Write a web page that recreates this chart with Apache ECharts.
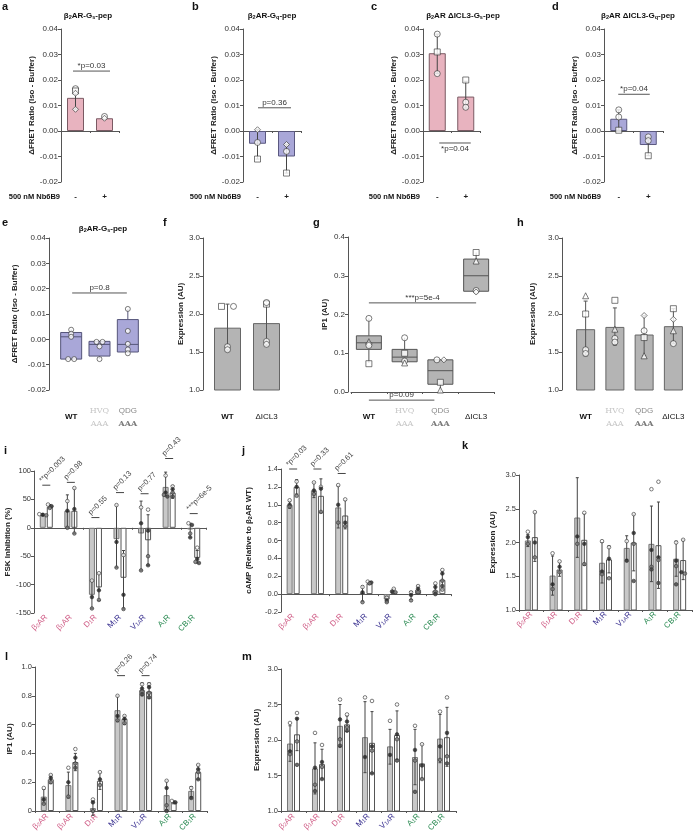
<!DOCTYPE html>
<html><head><meta charset="utf-8">
<script src="https://cdn.jsdelivr.net/npm/echarts@6/dist/echarts.min.js"></script>
<style>html,body{margin:0;padding:0;background:#fff}#c{width:695px;height:838px}</style>
</head><body><div id="c"></div>
<script>
// ================= DATA =================
// Row 1: ΔFRET (Iso - Buffer), without / with 500 nM Nb6B9
const nbCats = ['-', '+'];
const aMean = [0.013, 0.005];
const aErr = [[0.0085, 0.0166], [0.0047, 0.0057]];
const aPts = [[0.0166, 0.0157, 0.0148, 0.0085], [0.0057, 0.0050]];
const aSym = [['circle', 'rect', 'diamond', 'diamond'], ['circle', 'diamond']];
const bMean = [-0.005, -0.010];
const bErr = [[-0.011, 0.0005], [-0.0165, -0.0053]];
const bPts = [[0.0005, -0.0045, -0.011], [-0.0053, -0.008, -0.0165]];
const bSym = [['diamond', 'circle', 'rect'], ['diamond', 'circle', 'rect']];
const cMean = [0.0305, 0.0135];
const cErr = [[0.0225, 0.038], [0.009, 0.0195]];
const cPts = [[0.038, 0.031, 0.0225], [0.020, 0.0113, 0.0093]];
const cSym = [['circle', 'rect', 'circle'], ['rect', 'circle', 'circle']];
const dMean = [0.0048, -0.0055];
const dErr = [[0.0003, 0.0083], [-0.0097, -0.0023]];
const dPts = [[0.0083, 0.0055, 0.0003], [-0.0023, -0.0038, -0.0097]];
const dSym = [['circle', 'circle', 'rect'], ['circle', 'circle', 'rect']];
const rowPvals = ['*p=0.03', 'p=0.36', '*p=0.04', '*p=0.04'];
const rowPy = [0.0235, 0.0091, -0.0047, 0.0144];

// Row 2
const mutCats = ['WT', 'HVQ AAA', 'QDG AAA', 'ΔICL3'];
const eBoxes = [[-0.008, -0.0078, 0.001, 0.0027, 0.004], [-0.0078, -0.0066, -0.002, -0.0008, -0.0008], [-0.0055, -0.005, -0.002, 0.0078, 0.012]];
const ePts = [[0.0038, 0.0022, 0.0010, -0.0078, -0.0078], [-0.0010, -0.0010, -0.0028, -0.0078], [0.0120, 0.0033, -0.0018, -0.0040, -0.0055]];
const ePval = 'p=0.8', ePy = 0.0183;
const fCats = ['WT', 'ΔICL3'];
const fMean = [1.82, 1.88];
const fErr = [[1.51, 2.13], [1.58, 2.18]];
const fPts = [[2.10, 2.10, 1.57, 1.53], [2.13, 2.15, 1.64, 1.60]];
const fSym = [['rect', 'circle', 'circle', 'circle'], ['rect', 'circle', 'circle', 'circle']];
const gBoxes = [[0.075, 0.11, 0.127, 0.145, 0.19], [0.078, 0.078, 0.09, 0.11, 0.14], [0.0, 0.02, 0.055, 0.083, 0.083], [0.26, 0.26, 0.30, 0.343, 0.36]];
const gPts = [[0.19, 0.13, 0.125, 0.12, 0.073], [0.14, 0.10, 0.08, 0.075], [0.083, 0.083, 0.025, 0.005], [0.36, 0.338, 0.262, 0.258]];
const gSym = [['circle', 'triangle', 'diamond', 'circle', 'rect'], ['circle', 'rect', 'circle', 'triangle'], ['circle', 'diamond', 'rect', 'triangle'], ['rect', 'triangle', 'circle', 'diamond']];
const gPvals = ['***p=5e-4', 'p=0.09'];
const gPy = [0.23, -0.021];
const hMean = [1.80, 1.83, 1.73, 1.84];
const hErr = [[1.45, 2.17], [1.59, 2.08], [1.45, 1.98], [1.61, 2.07]];
const hPts = [[2.24, 2.0, 1.53, 1.48], [2.18, 1.80, 1.68, 1.63], [1.98, 1.78, 1.69, 1.45], [2.07, 1.93, 1.78, 1.61]];
const hSym = [['triangle', 'rect', 'circle', 'circle'], ['rect', 'triangle', 'circle', 'circle'], ['diamond', 'circle', 'rect', 'triangle'], ['rect', 'diamond', 'triangle', 'circle']];

// Rows 3-4: receptors
const recCats = ['β2AR', 'β1AR', 'D1R', 'M1R', 'V1AR', 'A1R', 'CB1R'];
const recParts = [['β', '2', 'AR'], ['β', '1', 'AR'], ['D', '1', 'R'], ['M', '1', 'R'], ['V', '1A', 'R'], ['A', '1', 'R'], ['CB', '1', 'R']];

const iGray = [23, 30, -118, -20, -10, 72, -3];
const iWhite = [37, 30, -105, -88, -22, 62, -53];
const iGrayErr = [[21, 25], [0, 58], [-142, -93], [-70, 40], [-75, 47], [56, 98], [-17, 8]];
const iWhiteErr = [[35, 41], [-10, 70], [-128, -80], [-143, -40], [-66, 23], [52, 74], [-62, -40]];
const iGrayPts = [[24, 23, 22], [47, 30, 0], [-93, -122, -142], [40, -25, -70], [36, 8, -75], [92, 62, 58, 55], [8, 5, -10, -17]];
const iWhitePts = [[41, 38, 35], [70, 33, -10], [-80, -110, -127], [-48, -118, -143], [32, -5, -50, -66], [73, 68, 62, 55], [-35, -55, -60, -62]];
const iPvals = ['**p=0.003', 'p=0.98', 'p=0.55', 'p=0.13', 'p=0.77', 'p=0.43', '***p=6e-5'];
const iPy = [75, 80, 18, 62, 60, 122, 25];

const jGray = [1.0, 1.16, 0.97, 0.01, -0.06, -0.01, 0.04];
const jWhite = [1.2, 1.1, 0.88, 0.12, 0.03, 0.05, 0.16];
const jGrayErr = [[0.96, 1.04], [1.08, 1.25], [0.74, 1.21], [-0.08, 0.09], [-0.09, -0.03], [-0.06, 0.03], [0.0, 0.11]];
const jWhiteErr = [[1.12, 1.28], [0.91, 1.29], [0.73, 1.05], [0.11, 0.14], [0.01, 0.06], [0.01, 0.09], [0.05, 0.26]];
const jGrayPts = [[1.05, 1.0, 0.98], [1.25, 1.16, 1.12], [1.22, 1.0, 0.8], [0.08, 0.02, -0.09], [-0.04, -0.07, -0.09], [0.02, -0.01, -0.07], [0.12, 0.08, 0.03, 0.0]];
const jWhitePts = [[1.26, 1.2, 1.1], [1.2, 1.18, 0.92], [1.06, 0.8, 0.76], [0.14, 0.13, 0.12], [0.06, 0.03, 0.02], [0.09, 0.06, 0.02], [0.27, 0.23, 0.15, 0.09, 0.05]];
const jPvals = ['*p=0.03', 'p=0.33', 'p=0.61'];
const jPy = [1.4, 1.4, 1.35];

const kGray = [2.03, 1.51, 2.37, 1.70, 1.92, 1.98, 1.76];
const kWhite = [2.08, 1.60, 2.04, 1.75, 2.0, 1.96, 1.74];
const kGrayErr = [[1.94, 2.12], [1.22, 1.80], [1.78, 2.96], [1.40, 2.00], [1.75, 2.10], [1.42, 2.54], [1.50, 2.02]];
const kWhiteErr = [[1.72, 2.44], [1.50, 1.71], [1.66, 2.43], [1.55, 1.95], [1.58, 2.42], [1.32, 2.60], [1.45, 2.04]];
const kGrayPts = [[2.16, 2.08, 1.98], [1.84, 1.38, 1.31], [3.05, 2.09, 1.98], [2.02, 1.57, 1.53], [2.02, 1.73], [2.79, 1.89, 1.64, 1.60], [2.0, 1.73, 1.65, 1.38]];
const kWhitePts = [[2.45, 2.0, 1.78], [1.72, 1.64, 1.56], [2.44, 1.98, 1.68], [1.93, 1.76, 1.47], [2.42, 2.14, 1.98, 1.43], [2.90, 1.78, 1.74, 1.40], [2.04, 1.56, 1.54]];

const lGray = [0.10, 0.18, 0.02, 0.70, 0.84, 0.11, 0.14];
const lWhite = [0.22, 0.34, 0.21, 0.64, 0.83, 0.06, 0.27];
const lGrayErr = [[0.05, 0.15], [0.09, 0.27], [-0.03, 0.07], [0.62, 0.80], [0.80, 0.89], [0.01, 0.21], [0.10, 0.17]];
const lWhiteErr = [[0.19, 0.25], [0.28, 0.40], [0.15, 0.27], [0.60, 0.66], [0.78, 0.89], [0.05, 0.07], [0.22, 0.32]];
const lGrayPts = [[0.16, 0.08, 0.05], [0.30, 0.20, 0.10], [0.08, 0.06, 0.0, -0.03], [0.80, 0.66, 0.63], [0.88, 0.85, 0.83, 0.81], [0.21, 0.16, 0.04, 0.0], [0.16, 0.09]];
const lWhitePts = [[0.25, 0.23, 0.20], [0.43, 0.37, 0.33, 0.30], [0.27, 0.22, 0.18], [0.66, 0.64, 0.61], [0.88, 0.86, 0.82, 0.79], [0.07, 0.06], [0.32, 0.29, 0.27, 0.22]];
const lPcats = [3, 4];
const lPvals = ['p=0.26', 'p=0.74'];
const lPy = [0.94, 0.94];

const mGray = [1.95, 1.60, 2.20, 2.04, 1.91, 1.76, 2.02];
const mWhite = [2.08, 1.66, 2.22, 1.96, 2.07, 1.67, 2.04];
const mGrayErr = [[1.70, 2.20], [1.24, 1.96], [1.90, 2.50], [1.54, 2.54], [1.66, 2.15], [1.37, 2.15], [1.68, 2.36]];
const mWhiteErr = [[1.85, 2.31], [1.45, 1.87], [2.12, 2.34], [1.53, 2.40], [1.73, 2.41], [1.45, 1.94], [1.63, 2.46]];
const mGrayPts = [[2.24, 1.84, 1.80], [2.10, 1.61, 1.37, 1.28], [2.57, 2.29, 2.01, 1.92], [2.60, 1.76], [2.27, 1.79], [2.20, 1.86, 1.71, 1.27], [2.40, 1.91, 1.72]];
const mWhitePts = [[2.38, 2.30, 1.98, 1.65], [1.93, 1.69, 1.62, 1.45], [2.36, 2.26, 2.18, 2.13], [2.55, 1.91, 1.85, 1.53], [2.50, 2.08, 2.01, 1.71], [1.94, 1.64, 1.45], [2.60, 2.10, 1.77, 1.67]];

// ================= STYLE / BUILDERS =================
const FONT = '"Liberation Sans", Arial, sans-serif';
const AX = '#555';
const PINK = '#e8b3bf', PURPLE = '#a9a7d8', BOXG = '#b4b4b4', BARG = '#c8c8c8';
const C_PINK = '#cf5b85', C_PURP = '#3a3190', C_GREEN = '#2a8a52';
const opt = { animation: false, backgroundColor: '#fff', textStyle: { fontFamily: FONT },
  grid: [], xAxis: [], yAxis: [], series: [], graphic: [] };

function panel(c) {
  const gi = opt.grid.length;
  opt.grid.push({ left: c.left, top: c.top, width: c.width, height: c.height, containLabel: false, outerBoundsMode: 'none' });
  const xi = opt.xAxis.length;
  opt.xAxis.push({ type: 'category', gridIndex: gi, data: c.cats, position: 'bottom',
    axisLine: { show: !c.zeroLine && c.bottomLine !== false, onZero: false, lineStyle: { color: AX, width: 1 } },
    axisTick: { show: !c.zeroLine && c.bottomLine !== false, length: 2, lineStyle: { color: AX } },
    axisLabel: Object.assign({ show: true, interval: 0, margin: c.margin, fontSize: 8, color: '#222', fontFamily: FONT }, c.label || {}),
    splitLine: { show: false } });
  if (c.zeroLine) {
    opt.xAxis.push({ type: 'category', gridIndex: gi, data: c.cats, position: 'top',
      axisLine: { show: true, onZero: true, lineStyle: { color: AX, width: 1 } },
      axisTick: { show: true, inside: true, length: 2, lineStyle: { color: AX } },
      axisLabel: { show: false }, splitLine: { show: false } });
  }
  const yi = opt.yAxis.length;
  opt.yAxis.push({ type: 'value', gridIndex: gi, min: c.min, max: c.max, interval: c.interval, offset: c.yOffset || 0,
    axisLine: { show: true, lineStyle: { color: AX, width: 1 } }, axisTick: { show: true, length: 3, lineStyle: { color: AX } },
    axisLabel: { fontSize: c.tickFont || 8, color: '#333', margin: 3, formatter: c.fmt, fontFamily: FONT },
    splitLine: { show: false },
    name: c.yName, nameLocation: 'middle', nameGap: c.nameGap, nameRotate: 90,
    nameTextStyle: { fontSize: 8, fontWeight: 'bold', color: '#222', fontFamily: FONT,
      rich: { n: { fontSize: 8, fontWeight: 'bold', color: '#222' }, s: { fontSize: 5.5, fontWeight: 'bold', color: '#222', verticalAlign: 'bottom' } } } });
  return { xi, yi };
}

function barSeries(ax, vals, color, border, extra) {
  opt.series.push(Object.assign({ type: 'bar', xAxisIndex: ax.xi, yAxisIndex: ax.yi, data: vals, silent: true, z: 2,
    itemStyle: { color: color, borderColor: border, borderWidth: 1 } }, extra));
}

function errSeries(ax, ranges, dx, cap, color) {
  opt.series.push({ type: 'custom', xAxisIndex: ax.xi, yAxisIndex: ax.yi, z: 5, silent: true,
    data: ranges.map((r, i) => [i, r[0], r[1]]),
    renderItem: function (p, api) {
      const a = api.coord([api.value(0), api.value(1)]);
      const b = api.coord([api.value(0), api.value(2)]);
      const x = a[0] + dx;
      const st = { stroke: color, lineWidth: 1 };
      return { type: 'group', children: [
        { type: 'line', shape: { x1: x, y1: a[1], x2: x, y2: b[1] }, style: st },
        { type: 'line', shape: { x1: x - cap, y1: a[1], x2: x + cap, y2: a[1] }, style: st },
        { type: 'line', shape: { x1: x - cap, y1: b[1], x2: x + cap, y2: b[1] }, style: st }] };
    } });
}

function boxSeries(ax, boxes, w, fill, stroke) {
  opt.series.push({ type: 'custom', xAxisIndex: ax.xi, yAxisIndex: ax.yi, z: 3, silent: true,
    data: boxes.map((b, i) => [i].concat(b)),
    renderItem: function (p, api) {
      const c = api.value(0);
      const yy = k => api.coord([c, api.value(k)]);
      const lo = yy(1), q1 = yy(2), md = yy(3), q3 = yy(4), hi = yy(5);
      const x = lo[0];
      const st = { stroke: stroke, lineWidth: 1 };
      return { type: 'group', children: [
        { type: 'line', shape: { x1: x, y1: lo[1], x2: x, y2: q1[1] }, style: st },
        { type: 'line', shape: { x1: x, y1: q3[1], x2: x, y2: hi[1] }, style: st },
        { type: 'rect', shape: { x: x - w / 2, y: q3[1], width: w, height: Math.max(1, q1[1] - q3[1]) }, style: { fill: fill, stroke: stroke, lineWidth: 1 } },
        { type: 'line', shape: { x1: x - w / 2, y1: md[1], x2: x + w / 2, y2: md[1] }, style: st }] };
    } });
}

function jitter(vals, tol, sp) {
  const offs = vals.map(() => 0), used = vals.map(() => false);
  for (let i = 0; i < vals.length; i++) {
    if (used[i]) continue;
    const cl = [i]; used[i] = true;
    for (let j = i + 1; j < vals.length; j++) if (!used[j] && Math.abs(vals[j] - vals[i]) <= tol) { cl.push(j); used[j] = true; }
    cl.forEach((idx, k) => { offs[idx] = (k - (cl.length - 1) / 2) * sp; });
  }
  return offs;
}

const PFILLS = ['#ffffff', '#222222', '#7a7a7a', '#444444', '#bbbbbb'];
function pointSeries(ax, groups, syms, dx, size, tol, sp, open) {
  const data = [];
  groups.forEach((g, ci) => {
    const offs = jitter(g, tol, sp);
    g.forEach((v, k) => data.push({ value: [ci, v], symbol: syms ? syms[ci][k] : 'circle',
      symbolOffset: [dx + offs[k], 0], itemStyle: { color: open ? '#ffffff' : PFILLS[k % PFILLS.length] } }));
  });
  opt.series.push({ type: 'scatter', xAxisIndex: ax.xi, yAxisIndex: ax.yi, symbolSize: size, z: 6, silent: true,
    itemStyle: { borderColor: '#333', borderWidth: 0.8 }, data: data });
}

function hAnnot(ax, c0, dx0, c1, dx1, yv, text, below) {
  opt.series.push({ type: 'custom', xAxisIndex: ax.xi, yAxisIndex: ax.yi, z: 7, silent: true,
    data: [[c0, yv, c1]],
    renderItem: function (p, api) {
      const a = api.coord([api.value(0), api.value(1)]);
      const b = api.coord([api.value(2), api.value(1)]);
      const x0 = a[0] + dx0, x1 = b[0] + dx1, y = a[1];
      return { type: 'group', children: [
        { type: 'line', shape: { x1: x0, y1: y, x2: x1, y2: y }, style: { stroke: '#555', lineWidth: 1 } },
        { type: 'text', x: (x0 + x1) / 2, y: below ? y + 2 : y - 1,
          style: { text: text, fontSize: 8, fontFamily: FONT, fill: '#333', align: 'center', verticalAlign: below ? 'top' : 'bottom' } }] };
    } });
}

function rAnnot(ax, cats, yvs, texts) {
  opt.series.push({ type: 'custom', xAxisIndex: ax.xi, yAxisIndex: ax.yi, z: 7, silent: true,
    data: cats.map((c, i) => [c, yvs[i]]),
    renderItem: function (p, api) {
      const pt = api.coord([api.value(0), api.value(1)]);
      return { type: 'group', children: [
        { type: 'line', shape: { x1: pt[0] - 4, y1: pt[1], x2: pt[0] + 4, y2: pt[1] }, style: { stroke: '#444', lineWidth: 1 } },
        { type: 'text', x: pt[0] - 3, y: pt[1] - 1, rotation: Math.PI / 4,
          style: { text: texts[p.dataIndex], fontSize: 7.5, fontFamily: FONT, fill: '#444', align: 'left', verticalAlign: 'bottom' } }] };
    } });
}

function gtext(x, y, text, o) {
  opt.graphic.push({ type: 'text', x: x, y: y, silent: true,
    style: Object.assign({ text: text, fill: '#111', fontFamily: FONT, fontSize: 8 }, o || {}) });
}
const subRich = {
  b: { fontSize: 8, fontWeight: 'bold', fill: '#111', color: '#111', fontFamily: FONT },
  s: { fontSize: 5.5, fontWeight: 'bold', fill: '#111', color: '#111', fontFamily: FONT, verticalAlign: 'bottom' }
};

// ================= ROW 1 =================
const FRET_NAME = 'ΔFRET Ratio (Iso - Buffer)';
const row1 = [
  { left: 61, width: 58, mean: aMean, err: aErr, pts: aPts, sym: aSym, col: PINK, bd: '#7a5a63', p0: -2.5, p1: 5.5, below: false, title: '{b|β}{s|2}{b|AR-G}{s|s}{b|-pep}', tx: 88, lab: 60 },
  { left: 243, width: 58, mean: bMean, err: bErr, pts: bPts, sym: bSym, col: PURPLE, bd: '#5a5880', p0: 0.5, p1: 4.5, below: false, title: '{b|β}{s|2}{b|AR-G}{s|q}{b|-pep}', tx: 272, lab: 241 },
  { left: 423, width: 57, mean: cMean, err: cErr, pts: cPts, sym: cSym, col: PINK, bd: '#7a5a63', p0: 2, p1: 5, below: true, title: '{b|β}{s|2}{b|AR ΔICL3-G}{s|s}{b|-pep}', tx: 463, lab: 420 },
  { left: 604, width: 59, mean: dMean, err: dErr, pts: dPts, sym: dSym, col: PURPLE, bd: '#5a5880', p0: -0.5, p1: 1.5, below: false, title: '{b|β}{s|2}{b|AR ΔICL3-G}{s|q}{b|-pep}', tx: 638, lab: 601 }
];
row1.forEach((r, i) => {
  const ax = panel({ left: r.left, top: 29, width: r.width, height: 153, cats: nbCats, zeroLine: true, margin: 11,
    label: { fontWeight: 'bold', fontSize: 8 }, min: -0.02, max: 0.04, interval: 0.01, fmt: v => v.toFixed(2),
    yName: FRET_NAME, nameGap: 23 });
  barSeries(ax, r.mean, r.col, r.bd, { barWidth: 17 });
  errSeries(ax, r.err, 0, 2, '#444');
  pointSeries(ax, r.pts, r.sym, 0, 6, 0.0004, 6, true);
  hAnnot(ax, 0, r.p0, 1, r.p1, rowPy[i], rowPvals[i], r.below);
  gtext(r.tx, 16, r.title, { rich: subRich, align: 'center', verticalAlign: 'middle' });
  gtext(r.lab, 197, '500 nM Nb6B9', { fontWeight: 'bold', fontSize: 7.5, align: 'right', verticalAlign: 'middle' });
});

// ================= ROW 2 =================
const mutLabel = {
  fontSize: 8, verticalAlign: 'middle', lineHeight: 13,
  formatter: function (v) {
    if (v === 'WT') return '{wt|WT}';
    if (v === 'ΔICL3') return '{ic|ΔICL3}';
    if (v === 'HVQ AAA') return '{hv|HVQ}\n{hv|AAA}';
    return '{qd|QDG}\n{qa|AAA}';
  },
  rich: {
    wt: { fontSize: 8, fontWeight: 'bold', color: '#111', fontFamily: FONT },
    ic: { fontSize: 8, color: '#111', fontFamily: FONT },
    hv: { fontSize: 8, color: '#c6c6c6', fontFamily: '"DejaVu Serif", serif', lineHeight: 13 },
    qd: { fontSize: 8, color: '#8a8a8a', fontFamily: FONT, lineHeight: 13 },
    qa: { fontSize: 8, color: '#7a7a7a', fontWeight: 'bold', fontFamily: '"DejaVu Serif", serif', lineHeight: 13 }
  }
};
// e
const axE = panel({ left: 57, top: 238, width: 85, height: 152, cats: mutCats.slice(0, 3), bottomLine: false, margin: 27,
  label: mutLabel, min: -0.02, max: 0.04, interval: 0.01, fmt: v => v.toFixed(2), yOffset: 8, yName: FRET_NAME, nameGap: 30 });
boxSeries(axE, eBoxes, 21, PURPLE, '#55557a');
pointSeries(axE, ePts, null, 0, 5, 0.0004, 6, true);
hAnnot(axE, 0, 1, 2, -1, ePy, ePval, false);
gtext(103, 229, '{b|β}{s|2}{b|AR-G}{s|s}{b|-pep}', { rich: subRich, align: 'center', verticalAlign: 'middle' });
// f
const axF = panel({ left: 208, top: 238, width: 78, height: 152, cats: fCats, bottomLine: false, margin: 27,
  label: mutLabel, min: 1, max: 3, interval: 0.5, fmt: v => v.toFixed(1), yOffset: 5, yName: 'Expression (AU)', nameGap: 18 });
barSeries(axF, fMean, BOXG, '#666', { barWidth: 27 });
errSeries(axF, fErr, 0, 2, '#555');
pointSeries(axF, fPts, fSym, 0, 6, 0.02, 12, true);
// g
const axG = panel({ left: 351, top: 237, width: 143, height: 155, cats: mutCats, bottomLine: true, margin: 25,
  label: mutLabel, min: 0, max: 0.4, interval: 0.1, fmt: v => v.toFixed(1), yOffset: 3, yName: 'IP1 (AU)', nameGap: 19 });
boxSeries(axG, gBoxes, 25, BOXG, '#555');
pointSeries(axG, gPts, gSym, 0, 6, 0.004, 7, true);
hAnnot(axG, 0, 0, 3, 0, gPy[0], gPvals[0], false);
hAnnot(axG, 0, 0, 2, -6, gPy[1], gPvals[1], false);
// h
const axH = panel({ left: 571, top: 238, width: 117, height: 152, cats: mutCats, bottomLine: false, margin: 27,
  label: mutLabel, min: 1, max: 3, interval: 0.5, fmt: v => v.toFixed(1), yOffset: 9, yName: 'Expression (AU)', nameGap: 25 });
barSeries(axH, hMean, BOXG, '#666', { barWidth: 19 });
errSeries(axH, hErr, 0, 2, '#555');
pointSeries(axH, hPts, hSym, 0, 6, 0.02, 7, true);

// ================= ROWS 3-4 =================
const recLabel = {
  rotate: 45, fontSize: 8,
  formatter: function (v) {
    const idx = recCats.indexOf(v);
    const p = recParts[idx];
    const k = idx < 3 ? 'p' : (idx < 5 ? 'u' : 'g');
    return '{' + k + '|' + p[0] + '}{' + k + 's|' + p[1] + '}{' + k + '|' + p[2] + '}';
  },
  rich: {
    p: { color: C_PINK, fontSize: 8, fontFamily: FONT }, ps: { color: C_PINK, fontSize: 5.5, fontFamily: FONT, verticalAlign: 'bottom' },
    u: { color: C_PURP, fontSize: 8, fontFamily: FONT }, us: { color: C_PURP, fontSize: 5.5, fontFamily: FONT, verticalAlign: 'bottom' },
    g: { color: C_GREEN, fontSize: 8, fontFamily: FONT }, gs: { color: C_GREEN, fontSize: 5.5, fontFamily: FONT, verticalAlign: 'bottom' }
  }
};
function pairPanel(c, gray, white, gErr, wErr, gPts, wPts) {
  const ax = panel(Object.assign({ cats: recCats, label: recLabel, tickFont: 7.5 }, c));
  barSeries(ax, gray, BARG, '#777', { barWidth: 6, barGap: '17%' });
  barSeries(ax, white, '#ffffff', '#555', { barWidth: 6, barGap: '17%' });
  const tol = (c.max - c.min) * 0.012;
  errSeries(ax, gErr, -3.5, 1.5, '#444');
  errSeries(ax, wErr, 3.5, 1.5, '#444');
  pointSeries(ax, gPts, null, -3.5, 3.6, tol, 3.5, false);
  pointSeries(ax, wPts, null, 3.5, 3.6, tol, 3.5, false);
  return ax;
}
const axI = pairPanel({ left: 34, top: 471, width: 172, height: 142, zeroLine: true, margin: 3, min: -150, max: 100, interval: 50,
  fmt: v => String(v), yName: 'FSK Inhibition (%)', nameGap: 17 }, iGray, iWhite, iGrayErr, iWhiteErr, iGrayPts, iWhitePts);
rAnnot(axI, [0, 1, 2, 3, 4, 5, 6], iPy, iPvals);

const axJ = pairPanel({ left: 281, top: 469, width: 170, height: 143, zeroLine: true, margin: 3, min: -0.2, max: 1.4, interval: 0.2,
  fmt: v => v.toFixed(1), yName: '{n|cAMP (Relative to β}{s|2}{n|AR WT)}', nameGap: 28 }, jGray, jWhite, jGrayErr, jWhiteErr, jGrayPts, jWhitePts);
rAnnot(axJ, [0, 1, 2], jPy, jPvals);

const axK = pairPanel({ left: 519, top: 475, width: 173, height: 135, margin: 3, min: 1, max: 3, interval: 0.5,
  fmt: v => v.toFixed(1), yName: 'Expression (AU)', nameGap: 22 }, kGray, kWhite, kGrayErr, kWhiteErr, kGrayPts, kWhitePts);

const axL = pairPanel({ left: 35, top: 667, width: 172, height: 144, margin: 4, min: 0, max: 1, interval: 0.2,
  fmt: v => (v === 0 ? '0' : v.toFixed(1)), yName: 'IP1 (AU)', nameGap: 21 }, lGray, lWhite, lGrayErr, lWhiteErr, lGrayPts, lWhitePts);
rAnnot(axL, lPcats, lPy, lPvals);

const axM = pairPanel({ left: 281, top: 669, width: 175, height: 142, margin: 4, min: 1, max: 3, interval: 0.5,
  fmt: v => v.toFixed(1), yName: 'Expression (AU)', nameGap: 20 }, mGray, mWhite, mGrayErr, mWhiteErr, mGrayPts, mWhitePts);

// ================= PANEL LETTERS =================
const letters = [['a', 2, 1], ['b', 192, 1], ['c', 371, 1], ['d', 552, 1], ['e', 2, 217], ['f', 163, 217], ['g', 313, 217], ['h', 517, 217],
  ['i', 4, 445], ['j', 242, 445], ['k', 462, 440], ['l', 5, 651], ['m', 242, 651]];
letters.forEach(l => gtext(l[1], l[2], l[0], { fontSize: 11, fontWeight: 'bold', align: 'left', verticalAlign: 'top' }));

const chart = echarts.init(document.getElementById('c'), null, { renderer: 'canvas' });
chart.setOption(opt);
</script></body></html>
